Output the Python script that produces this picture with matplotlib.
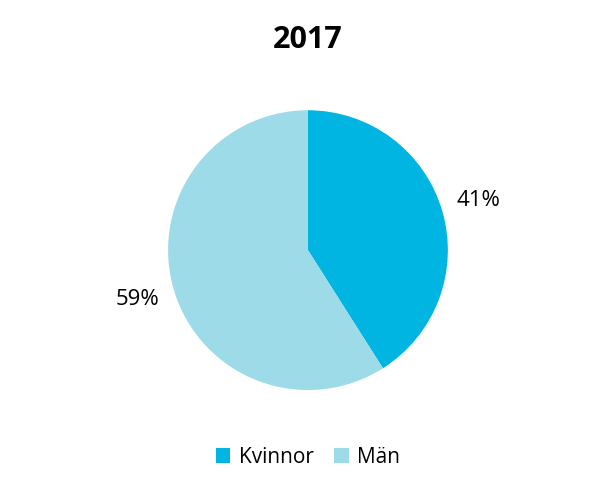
import matplotlib
matplotlib.use("Agg")
import matplotlib.pyplot as plt

labels = ["Kvinnor", "Män"]
values = [41, 59]
colors = ["#00b5e2", "#9ddbe8"]
title = "2017"

fig = plt.figure(figsize=(6.16, 4.9), dpi=100)
ax = fig.add_axes([0.2727, 0.204, 0.4545, 0.571])
wedges, texts = ax.pie(values, colors=colors, startangle=90, counterclock=False,
                       labels=[f"{v}%" for v in values], labeldistance=1.27,
                       textprops=dict(fontsize=16, family="Open Sans"))
for t in texts:
    t.set_horizontalalignment("center")
ax.set_xlim(-1, 1)
ax.set_ylim(-1, 1)
ax.set_aspect("equal")
fig.text(0.5, 0.918, title, ha="center", va="center", fontsize=22, fontweight="bold", family="Open Sans")
fig.legend(wedges, labels, loc="center", bbox_to_anchor=(0.5, 0.067), ncol=2, frameon=False,
           prop=dict(size=15, family="Open Sans"), handlelength=0.7, handleheight=0.7,
           columnspacing=1.0, handletextpad=0.4)
fig.savefig("out.png", dpi=100)
